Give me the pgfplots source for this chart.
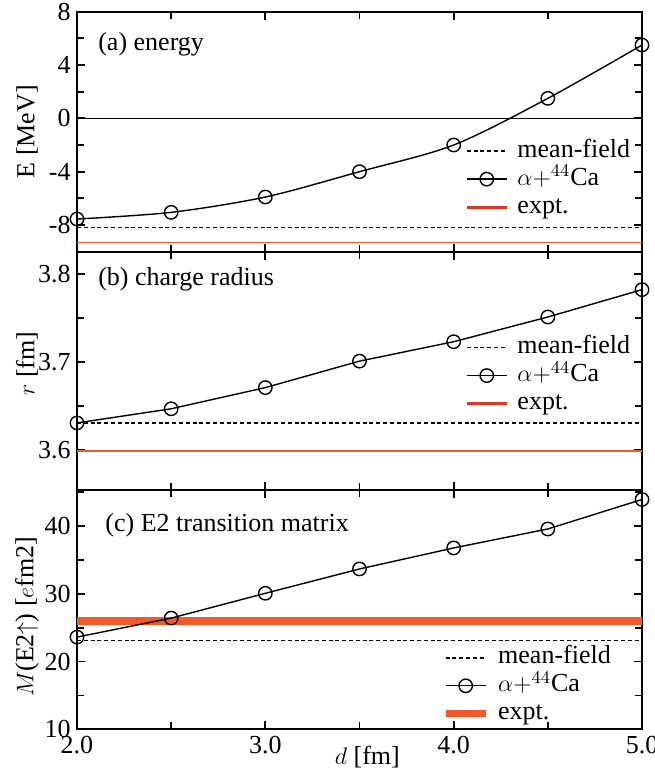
\documentclass[border=0pt]{standalone}
\usepackage{fontspec}
\setmainfont{Liberation Serif}
\usepackage{pgfplots}
\pgfplotsset{compat=1.18}
\definecolor{expt}{RGB}{240,90,40}
\definecolor{exptleg}{RGB}{222,52,38}

\pgfplotsset{
  panel/.style={
    scale only axis, width=282.5pt,
    xmin=2, xmax=5,
    clip mode=individual,
    font=\fontsize{13}{15}\selectfont,
    /pgf/number format/assume math mode=true,
    xtick={2,3,4,5}, minor xtick={2.5,3.5,4.5},
    tick align=inside, major tick length=4pt, minor tick length=3.5pt,
    axis line style={line width=1pt},
    every tick/.style={black, line width=0.9pt},
    yticklabel style={inner sep=3pt},
    xticklabel style={/pgf/number format/.cd, fixed, fixed zerofill, precision=1},
    ylabel style={at={(axis description cs:-0.0885,0.5)}, anchor=center},
    legend cell align=left,
    legend style={draw=none, fill=none, inner sep=0pt, row sep=0pt,
      font=\fontsize{13}{15}\selectfont,
      nodes={text height=9.5pt, text depth=3.3pt, inner sep=0.6pt},
      column sep=4pt},
    legend image code/.code={\draw[mark repeat=2,mark phase=2,##1] plot coordinates {(0pt,0pt) (10pt,0pt) (20pt,0pt)};},
  },
  mf/.style={black, line width=0.75pt, dash pattern=on 2pt off 1.4pt},
  al/.style={black, line width=0.7pt, mark=o, mark size=3.35pt, mark options={solid, fill=white, line width=0.7pt}},
}

\begin{document}
\begin{tikzpicture}
% ---------------- panel (c) ----------------
\begin{axis}[panel, name=c, at={(0pt,0pt)}, anchor=south west, height=119.65pt,
  ymin=10, ymax=45.3, ytick={10,20,30,40}, minor ytick={15,25,35,45},
  xlabel={$d$ [fm]},
  xlabel style={at={(axis description cs:0.514,0)}, anchor=north, yshift=-8pt, inner sep=0pt},
  ylabel={$M$(E2$\uparrow$) [$e$fm2]},
  ylabel style={at={(axis description cs:-0.0885,0.47)}},
  legend style={at={(axis description cs:0.646,0.359)}, anchor=north west}]
\addplot[mf, forget plot] coordinates {(2,23.1) (5,23.1)};
\addplot[expt, line width=4.2pt, forget plot] coordinates {(2,26.0) (5,26.0)};
\addplot[al, forget plot] coordinates {(2.0,23.6) (2.5,26.4) (3.0,30.06) (3.5,33.65) (4.0,36.75) (4.5,39.55) (5.0,43.9)};
\addlegendimage{mf}
\addlegendimage{al}
\addlegendimage{color=expt, line width=3.3pt}
\legend{mean-field, $\alpha+^{44}$Ca, expt.}
\node[anchor=base west, inner sep=0pt] at (axis description cs:0.0496,0.826) {(c) E2 transition matrix};
\end{axis}
% ---------------- panel (b) ----------------
\begin{axis}[panel, name=b, at={(0pt,119.65pt)}, anchor=south west, height=119.15pt,
  ymin=3.555, ymax=3.825, ytick={3.6,3.7,3.8}, minor ytick={3.65,3.75},
  yticklabel style={/pgf/number format/.cd, fixed, fixed zerofill, precision=1},
  xticklabels={},
  ylabel={$r$ [fm]},
  ylabel style={at={(axis description cs:-0.0885,0.53)}},
  legend style={at={(axis description cs:0.6865,0.658)}, anchor=north west}]
\addplot[mf, forget plot] coordinates {(2,3.631) (5,3.631)};
\addplot[expt, line width=0.7pt, forget plot] coordinates {(2,3.599) (5,3.599)};
\addplot[al, forget plot] coordinates {(2.0,3.631) (2.5,3.647) (3.0,3.671) (3.5,3.701) (4.0,3.723) (4.5,3.751) (5.0,3.782)};
\addlegendimage{mf}
\addlegendimage{al}
\addlegendimage{color=exptleg, line width=1.5pt}
\legend{mean-field, $\alpha+^{44}$Ca, expt.}
\node[anchor=base west, inner sep=0pt] at (axis description cs:0.037,0.860) {(b) charge radius};
\end{axis}
% ---------------- panel (a) ----------------
\begin{axis}[panel, name=a, at={(0pt,238.8pt)}, anchor=south west, height=120pt,
  ymin=-10, ymax=8, ytick={-8,-4,0,4,8}, minor ytick={-6,-2,2,6},
  xticklabels={},
  ylabel={E [MeV]},
  legend style={at={(axis description cs:0.6865,0.479)}, anchor=north west}]
\addplot[black, line width=0.6pt, forget plot] coordinates {(2,0) (5,0)};
\addplot[mf, forget plot] coordinates {(2,-8.2) (5,-8.2)};
\addplot[expt, line width=0.7pt, forget plot] coordinates {(2,-9.3) (5,-9.3)};
\addplot[al, smooth, forget plot] coordinates {(2.0,-7.55) (2.5,-7.05) (3.0,-5.9) (3.5,-4.0) (4.0,-2.0) (4.5,1.5) (5.0,5.5)};
\addlegendimage{mf}
\addlegendimage{al}
\addlegendimage{color=exptleg, line width=1.5pt}
\legend{mean-field, $\alpha+^{44}$Ca, expt.}
\node[anchor=base west, inner sep=0pt] at (axis description cs:0.037,0.840) {(a) energy};
\end{axis}
\pgfresetboundingbox
\path[use as bounding box] (-38.5pt,-19.85pt) rectangle (288.5pt,364.65pt);
\end{tikzpicture}
\end{document}
